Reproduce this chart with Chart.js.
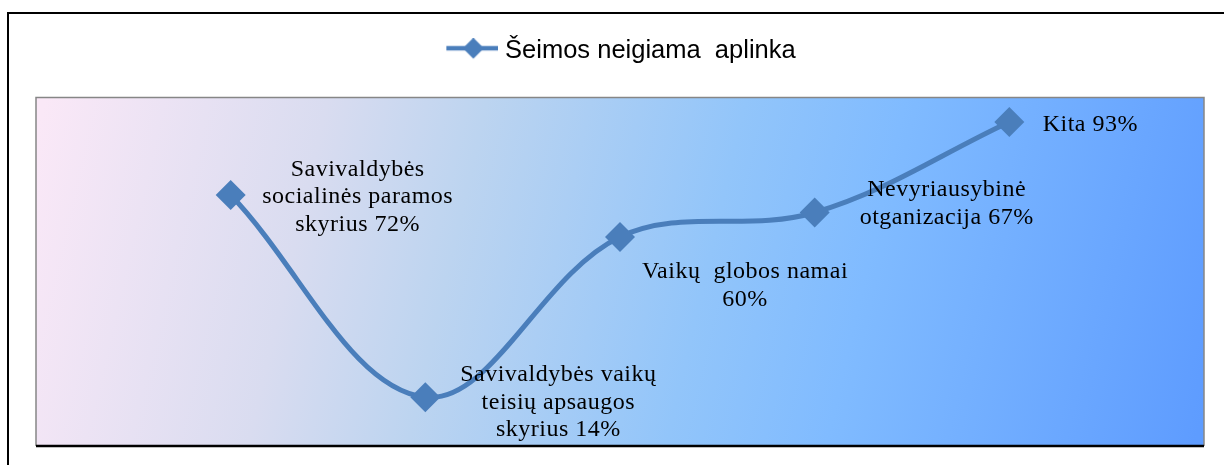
<!DOCTYPE html>
<html>
<head>
<meta charset="utf-8">
<script src="https://cdn.jsdelivr.net/npm/chart.js@4.4.1/dist/chart.umd.min.js"></script>
<style>
  html, body { margin: 0; padding: 0; background: #fff; }
  #wrap { width: 1224px; height: 465px; }
</style>
</head>
<body>
<div id="wrap"><canvas id="chart" width="1224" height="465"></canvas></div>
<script>
// data
const seriesName = "Šeimos neigiama  aplinka";
const categories = [
  "Savivaldybės\nsocialinės paramos\nskyrius",
  "Savivaldybės vaikų\nteisių apsaugos\nskyrius",
  "Vaikų  globos namai\n",
  "Nevyriausybinė\notganizacija",
  "Kita"
];
const values = [72, 14, 60, 67, 93];

const lineColor = "#4A7EBB";

// where each data label block sits, relative to its point
const labelOffsets = [[127, 2], [133, 5], [125, 49], [132, -9], [81, 3]];

// legend marker: line with a diamond
function legendMarker() {
  const c = document.createElement("canvas");
  c.width = 60;
  c.height = 26;
  const g = c.getContext("2d");
  g.strokeStyle = lineColor;
  g.lineWidth = 4.5;
  g.beginPath();
  g.moveTo(8, 10);
  g.lineTo(60, 10);
  g.stroke();
  g.fillStyle = lineColor;
  g.beginPath();
  g.moveTo(35, -0.5);
  g.lineTo(45.5, 10);
  g.lineTo(35, 20.5);
  g.lineTo(24.5, 10);
  g.closePath();
  g.fill();
  return c;
}

const plotBackground = {
  id: "plotBackground",
  beforeDraw(chart) {
    const ctx = chart.ctx;
    const a = chart.chartArea;
    ctx.save();
    // outer chart frame (only left and top are inside the picture)
    ctx.strokeStyle = "#000";
    ctx.lineWidth = 2;
    ctx.beginPath();
    ctx.moveTo(8, 465);
    ctx.lineTo(8, 13);
    ctx.lineTo(1224, 13);
    ctx.stroke();

    const grad = ctx.createLinearGradient(a.left, a.top + 40, a.right, a.bottom - 40);
    grad.addColorStop(0, "#FAE8F7");
    grad.addColorStop(0.23, "#D9DCF0");
    grad.addColorStop(0.36, "#BCD4F0");
    grad.addColorStop(0.57, "#92C5FA");
    grad.addColorStop(0.7, "#80BBFF");
    grad.addColorStop(1, "#5E9CFF");
    ctx.fillStyle = grad;
    ctx.fillRect(a.left, a.top, a.right - a.left, a.bottom - a.top);

    ctx.strokeStyle = "#868686";
    ctx.lineWidth = 1.5;
    ctx.beginPath();
    ctx.moveTo(a.left, a.bottom);
    ctx.lineTo(a.left, a.top);
    ctx.lineTo(a.right, a.top);
    ctx.lineTo(a.right, a.bottom);
    ctx.stroke();

    ctx.strokeStyle = "#000";
    ctx.lineWidth = 2.5;
    ctx.beginPath();
    ctx.moveTo(a.left, a.bottom);
    ctx.lineTo(a.right, a.bottom);
    ctx.stroke();
    ctx.restore();
  }
};

const pointLabels = {
  id: "pointLabels",
  afterDatasetsDraw(chart) {
    const ctx = chart.ctx;
    const meta = chart.getDatasetMeta(0);
    ctx.save();
    ctx.font = '24px "Liberation Serif", "Times New Roman", serif';
    ctx.letterSpacing = "0.5px";
    ctx.fillStyle = "#000";
    ctx.textAlign = "center";
    ctx.textBaseline = "middle";
    const lh = 27.5;
    meta.data.forEach((pt, i) => {
      const lines = categories[i].split("\n");
      const last = lines.length - 1;
      lines[last] = (lines[last] + " " + values[i] + "%").trim();
      const cx = pt.x + labelOffsets[i][0];
      const cy = pt.y + labelOffsets[i][1];
      const y0 = cy - (lines.length - 1) * lh / 2;
      lines.forEach((t, j) => ctx.fillText(t, cx, y0 + j * lh));
    });
    ctx.restore();
  }
};

new Chart(document.getElementById("chart"), {
  type: "line",
  data: {
    datasets: [{
      label: seriesName,
      data: values.map((v, i) => ({ x: i + 1, y: v })),
      borderColor: lineColor,
      backgroundColor: lineColor,
      borderWidth: 5,
      tension: 0.36,
      pointStyle: "rectRot",
      pointRadius: 15,
      pointHoverRadius: 15,
      pointBackgroundColor: lineColor,
      pointBorderColor: lineColor,
      pointBorderWidth: 0
    }]
  },
  options: {
    responsive: false,
    devicePixelRatio: 1,
    animation: false,
    layout: { padding: { left: 36, right: 20, top: 28.5, bottom: 19 } },
    scales: {
      x: { type: "linear", display: false, min: 0, max: 6 },
      y: { display: false, min: 0, max: 100 }
    },
    plugins: {
      legend: {
        position: "top",
        labels: {
          usePointStyle: true,
          pointStyleWidth: 48,
          padding: 10,
          color: "#000",
          font: { family: '"Liberation Sans", Arial, sans-serif', size: 25.5 },
          generateLabels: (chart) => [{
            text: seriesName,
            pointStyle: legendMarker(),
            datasetIndex: 0,
            fontColor: "#000"
          }]
        }
      },
      // empty spacer between legend and plot area
      title: {
        display: true,
        text: " ",
        weight: 500,
        padding: 0,
        font: { size: 23.5, lineHeight: 1 }
      },
      tooltip: { enabled: false }
    }
  },
  plugins: [plotBackground, pointLabels]
});
</script>
</body>
</html>
